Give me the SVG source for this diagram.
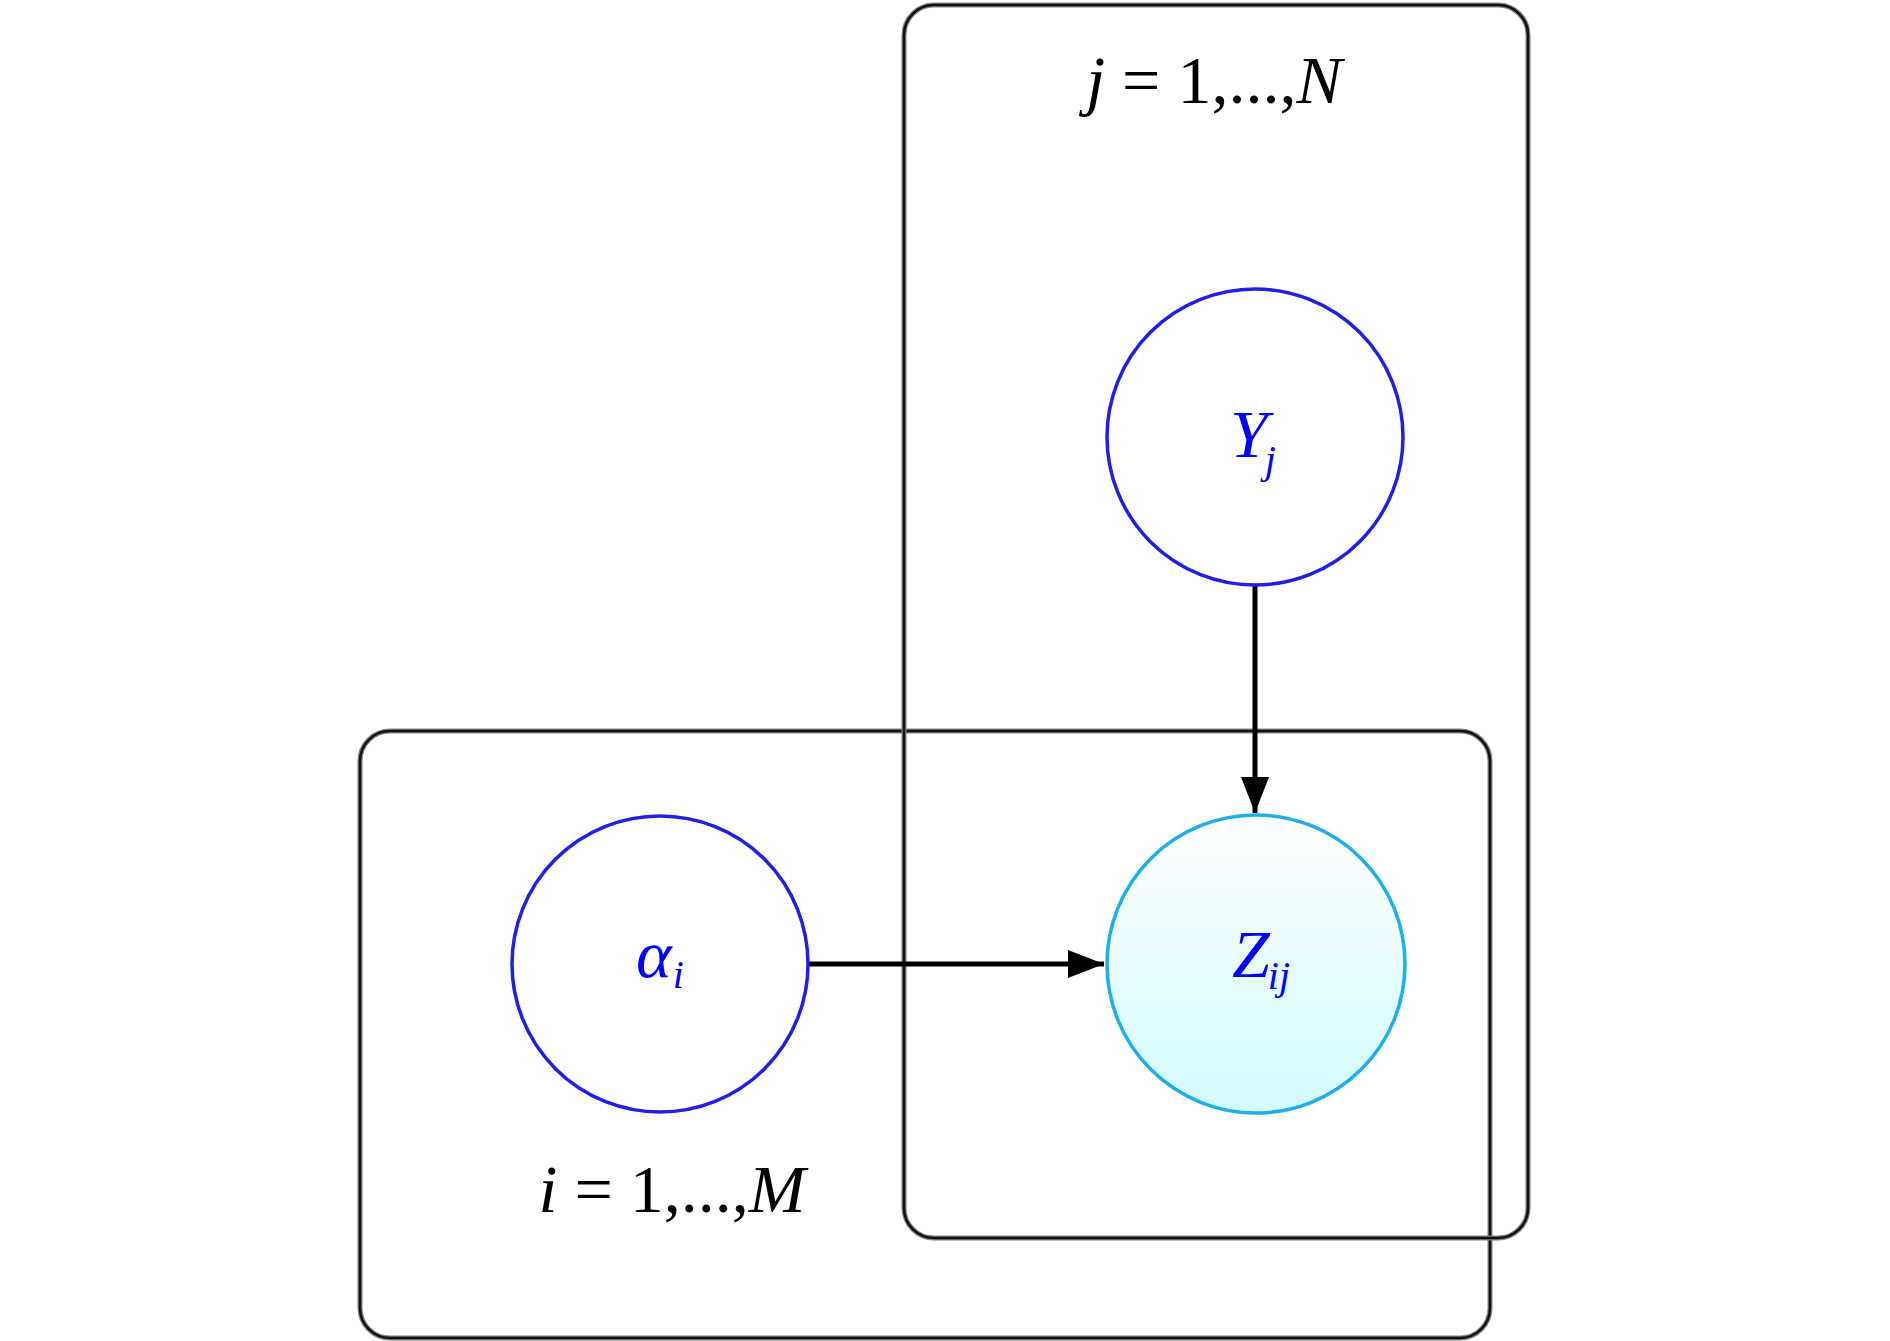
<svg xmlns="http://www.w3.org/2000/svg" width="1890" height="1341" viewBox="0 0 1890 1341">
  <defs>
    <linearGradient id="zfill" x1="0" y1="0" x2="0" y2="1">
      <stop offset="0" stop-color="#ffffff"/>
      <stop offset="1" stop-color="#d2fbfe"/>
    </linearGradient>
    <marker id="arrow" viewBox="0 0 36 28" refX="36" refY="14" markerWidth="36" markerHeight="28" markerUnits="userSpaceOnUse" orient="auto">
      <path d="M0,0 L36,14 L0,28 Z" fill="#000"/>
    </marker>
    <style>
      .plate-shadow { fill: none; stroke: #808080; stroke-width: 5; }
      .plate { fill: none; stroke: #111; stroke-width: 2.5; }
      .plate-label { font-family: "Liberation Serif", "Times New Roman", serif; font-size: 68px; fill: #000; }
      .node { stroke-width: 3.5; }
      .node-label { font-family: "Liberation Serif", "Times New Roman", serif; font-style: italic; fill: #0000ff; }
      .edge { stroke: #000; stroke-width: 5; fill: none; }
    </style>
  </defs>
  <rect width="1890" height="1341" fill="#fff"/>

  <g id="plate-i">
    <rect class="plate-shadow" x="360" y="731" width="1130" height="607" rx="30" ry="30"/>
    <rect class="plate" x="360" y="731" width="1130" height="607" rx="30" ry="30"/>
    <text class="plate-label" x="672" y="1212" text-anchor="middle"><tspan font-style="italic">i</tspan> = 1,...,<tspan font-style="italic">M</tspan></text>
  </g>

  <g id="plate-j">
    <rect class="plate-shadow" x="904" y="5" width="624" height="1233" rx="30" ry="30"/>
    <rect class="plate" x="904" y="5" width="624" height="1233" rx="30" ry="30"/>
    <text class="plate-label" x="1214" y="103" text-anchor="middle"><tspan font-style="italic">j</tspan> = 1,...,<tspan font-style="italic">N</tspan></text>
  </g>

  <g id="connectors">
    <line class="edge" x1="1255" y1="586" x2="1255" y2="813" marker-end="url(#arrow)"/>
    <line class="edge" x1="808" y1="964" x2="1104" y2="964" marker-end="url(#arrow)"/>
  </g>

  <g id="node-Y">
    <circle class="node" cx="1255" cy="437" r="148" fill="#fff" stroke="#1f1fe6"/>
    <text class="node-label" x="1230" y="457" font-size="68">Y<tspan font-size="40" dx="-3" dy="16">j</tspan></text>
  </g>

  <g id="node-alpha">
    <circle class="node" cx="660" cy="964" r="148" fill="#fff" stroke="#1f1fe6"/>
    <text class="node-label" x="636" y="977" font-size="68">α<tspan font-size="40" dx="1" dy="11">i</tspan></text>
  </g>

  <g id="node-Z">
    <circle class="node" cx="1256" cy="964" r="149" fill="url(#zfill)" stroke="#1eaee8"/>
    <text class="node-label" x="1232" y="977" font-size="68">Z<tspan font-size="40" dx="-2" dy="12">ij</tspan></text>
  </g>
</svg>
